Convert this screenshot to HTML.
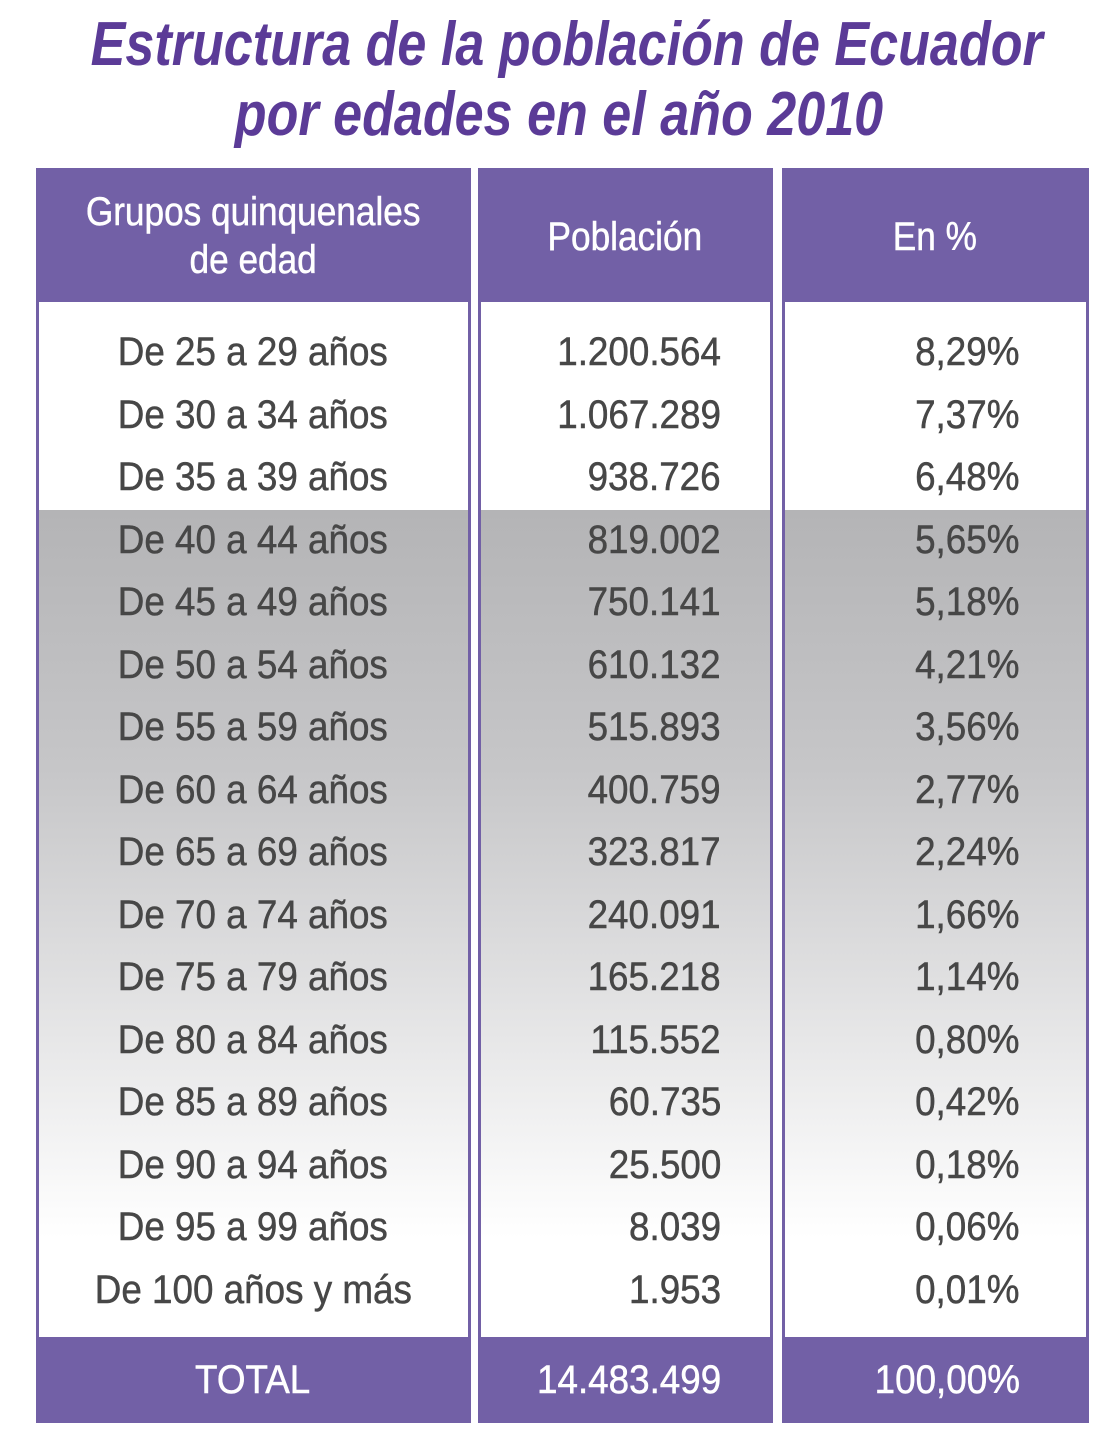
<!DOCTYPE html>
<html><head><meta charset="utf-8"><style>
body{margin:0;width:1118px;height:1440px;background:#fff;position:relative;overflow:hidden;font-family:"Liberation Sans",sans-serif}
.t{position:absolute;left:0;width:1118px;text-align:center;color:#5b3b97;font-weight:bold;font-style:italic;font-size:62px;line-height:70px;white-space:nowrap}
.t span{display:inline-block;transform:scaleX(0.84);transform-origin:center}
.col{position:absolute;top:168px;height:1255px;box-sizing:border-box;border-left:3px solid #7260a6;border-right:3px solid #7260a6;background:linear-gradient(#fff 0,#fff 342px,#b4b4b6 342px,#c6c6c8 600px,#fff 1070px,#fff 100%)}
.hd{position:absolute;left:0;right:0;top:0;height:134px;background:#7260a6}
.tot{position:absolute;left:0;right:0;bottom:0;height:86px;background:#7260a6}
.c{position:absolute;font-size:40px;line-height:50px;color:#474747;white-space:nowrap;-webkit-text-stroke:0.5px #474747}
.c span{display:inline-block}
.l{width:400px;text-align:center}
.l span{transform:scaleX(0.92);transform-origin:center}
.r{text-align:right;width:400px}
.r span{transform:scaleX(0.92);transform-origin:right}
.w{color:#fff;-webkit-text-stroke:0.5px #fff}
.l.hdt span{transform:scaleX(0.88)}
</style></head><body>
<div class="t" style="top:10px"><span>Estructura de la población de Ecuador</span></div>
<div class="t" style="top:80px"><span>por edades en el año 2010</span></div>
<div class="col" style="left:36px;width:435px"><div class="hd"></div><div class="tot"></div></div>
<div class="col" style="left:478px;width:295px"><div class="hd"></div><div class="tot"></div></div>
<div class="col" style="left:782px;width:307px"><div class="hd"></div><div class="tot"></div></div>
<div class="c l w hdt" style="left:53px;top:188px;font-size:40px;line-height:48px"><span>Grupos quinquenales<br>de edad</span></div>
<div class="c l w hdt" style="left:425px;top:212px"><span>Población</span></div>
<div class="c l w hdt" style="left:735px;top:212px"><span>En %</span></div>
<div id="rows"></div>
<div class="c l w" style="left:53px;top:1355px"><span>TOTAL</span></div>
<div class="c r w" style="left:321px;top:1355px"><span>14.483.499</span></div>
<div class="c r w" style="left:620px;top:1355px"><span>100,00%</span></div>
<script>
var d=[["De 25 a 29 años","1.200.564","8,29%"],["De 30 a 34 años","1.067.289","7,37%"],["De 35 a 39 años","938.726","6,48%"],["De 40 a 44 años","819.002","5,65%"],["De 45 a 49 años","750.141","5,18%"],["De 50 a 54 años","610.132","4,21%"],["De 55 a 59 años","515.893","3,56%"],["De 60 a 64 años","400.759","2,77%"],["De 65 a 69 años","323.817","2,24%"],["De 70 a 74 años","240.091","1,66%"],["De 75 a 79 años","165.218","1,14%"],["De 80 a 84 años","115.552","0,80%"],["De 85 a 89 años","60.735","0,42%"],["De 90 a 94 años","25.500","0,18%"],["De 95 a 99 años","8.039","0,06%"],["De 100 años y más","1.953","0,01%"]];
var h="";d.forEach(function(r,i){var y=352+62.5*i-25;
h+='<div class="c l" style="left:53px;top:'+y+'px"><span>'+r[0]+'</span></div>';
h+='<div class="c r" style="left:321px;top:'+y+'px"><span>'+r[1]+'</span></div>';
h+='<div class="c r" style="left:619px;top:'+y+'px"><span>'+r[2]+'</span></div>';});
document.getElementById("rows").innerHTML=h;
</script>
</body></html>
